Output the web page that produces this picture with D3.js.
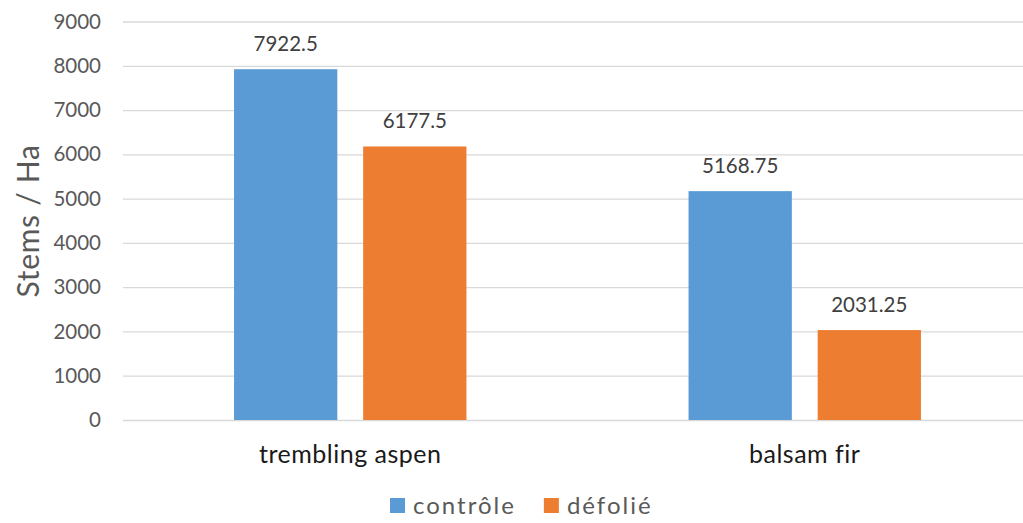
<!DOCTYPE html>
<html>
<head>
<meta charset="utf-8">
<script src="https://cdn.jsdelivr.net/npm/d3@7"></script>
<style>
  body { margin: 0; background: #fff; }
  text { font-family: Lato, "Liberation Sans", sans-serif; }
</style>
</head>
<body>
<div id="container"></div>
<script>
const categories = ['trembling aspen', 'balsam fir'];
const seriesNames = ['contrôle', 'défolié'];
const controle = [7922.5, 5168.75];
const defolie = [6177.5, 2031.25];
const yTicks = [0, 1000, 2000, 3000, 4000, 5000, 6000, 7000, 8000, 9000];
const colors = ['#5B9BD5', '#ED7D31'];

const width = 1023;
const height = 523;

const rows = categories.map((c, i) => ({
	category: c,
	values: [controle[i], defolie[i]]
}));

const svg = d3.select('#container').append('svg')
	.attr('width', width)
	.attr('height', height);

const x0 = d3.scaleBand()
	.domain(categories)
	.range([123, 1032])
	.padding(0);

const x1 = d3.scaleBand()
	.domain(seriesNames)
	.range([0, x0.bandwidth()])
	.paddingInner(0.2)
	.paddingOuter(0.86);

const y = d3.scaleLinear()
	.domain([0, 9000])
	.range([420, 21.5]);

// gridlines
const yAxis = d3.axisLeft(y)
	.tickValues(yTicks)
	.tickSize(-(1032 - 123))
	.tickPadding(22)
	.tickFormat(d3.format('d'));

const gy = svg.append('g')
	.attr('transform', 'translate(123,0)')
	.call(yAxis);
gy.select('.domain').remove();
gy.selectAll('.tick line')
	.attr('stroke', '#d9d9d9')
	.attr('stroke-width', 1.3);
gy.selectAll('.tick text')
	.attr('fill', '#595959')
	.attr('font-size', 20.5);

// bars
const groups = svg.append('g').selectAll('g')
	.data(rows).enter()
	.append('g')
	.attr('transform', d => `translate(${x0(d.category)},0)`);

const barData = d => d.values.map((v, i) => ({ series: seriesNames[i], value: v, i }));

groups.selectAll('rect')
	.data(barData)
	.enter()
	.append('rect')
	.attr('x', d => x1(d.series))
	.attr('y', d => y(d.value))
	.attr('width', x1.bandwidth())
	.attr('height', d => y(0) - y(d.value))
	.attr('fill', d => colors[d.i]);

groups.selectAll('.value-label')
	.data(barData)
	.enter()
	.append('text')
	.attr('class', 'value-label')
	.attr('x', d => x1(d.series) + x1.bandwidth() / 2)
	.attr('y', d => y(d.value) - 18)
	.attr('text-anchor', 'middle')
	.attr('font-size', 20.5)
	.attr('fill', '#404040')
	.text(d => d.value);

// category labels
svg.append('g').selectAll('text')
	.data(categories).enter()
	.append('text')
	.attr('x', d => x0(d) + x0.bandwidth() / 2)
	.attr('y', 463)
	.attr('text-anchor', 'middle')
	.attr('font-size', 25)
	.attr('letter-spacing', 0.5)
	.attr('fill', '#1a1a1a')
	.text(d => d);

// y axis title
svg.append('text')
	.attr('transform', 'translate(39,221) rotate(-90)')
	.attr('text-anchor', 'middle')
	.attr('font-size', 30)
	.attr('letter-spacing', 0.7)
	.attr('fill', '#595959')
	.text('Stems / Ha');

// legend
const legend = svg.append('g');
let lx = 390;
seriesNames.forEach((name, i) => {
	legend.append('rect')
		.attr('x', lx)
		.attr('y', 498)
		.attr('width', 15)
		.attr('height', 15)
		.attr('fill', colors[i]);
	const t = legend.append('text')
		.attr('x', lx + 23)
		.attr('y', 514)
		.attr('font-size', 24)
		.attr('letter-spacing', 2)
		.attr('fill', '#595959')
		.text(name);
	lx += 23 + t.node().getComputedTextLength() + 28;
});
</script>
</body>
</html>
